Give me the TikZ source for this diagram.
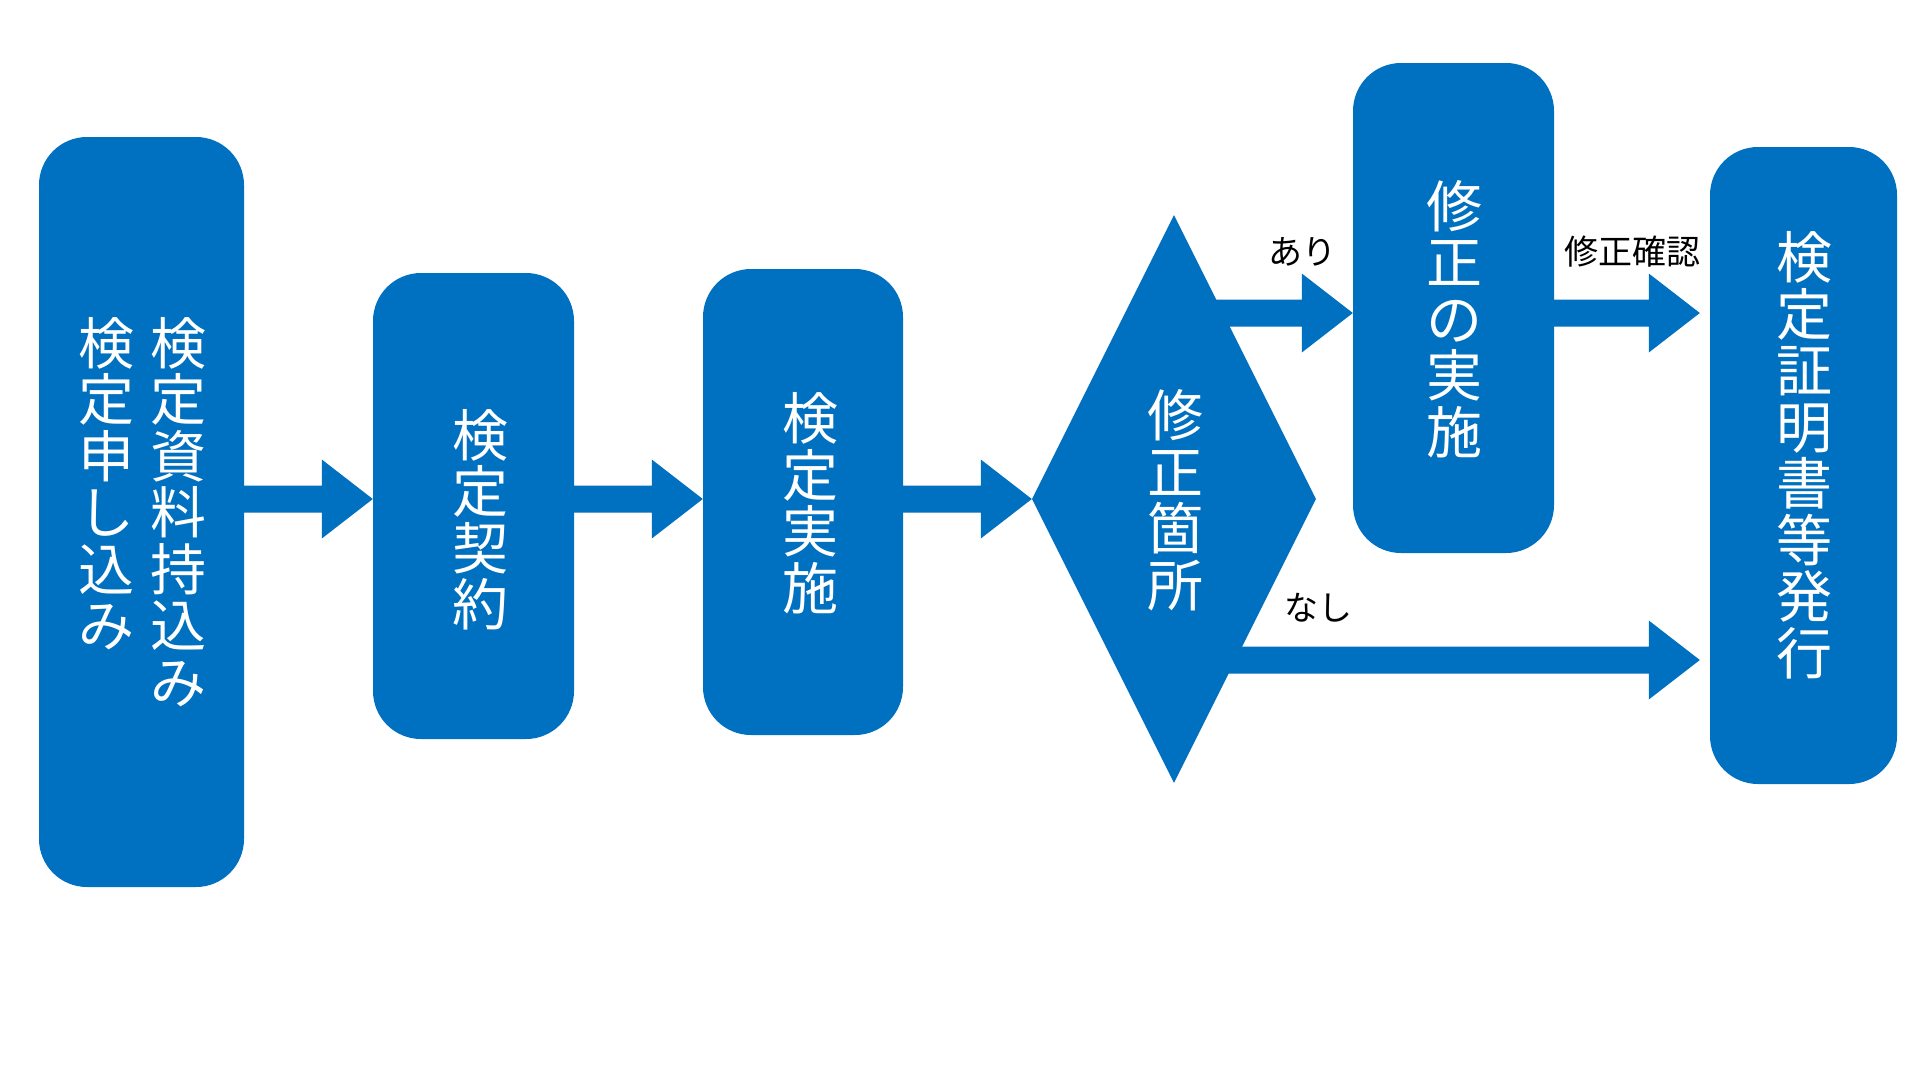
\documentclass[tikz,border=0pt]{standalone}
\usepackage{fontspec}
\setmainfont{Noto Sans CJK JP}
\usetikzlibrary{shapes.geometric,calc}
\definecolor{blu}{RGB}{0,112,192}
\tikzset{
 box/.style={rectangle, fill=blu, rounded corners=48pt, inner sep=0pt, draw=none},
 dec/.style={diamond, fill=blu, inner sep=0pt, draw=none},
 vt/.style={text=white, align=center, inner sep=0pt, font=\fontsize{56pt}{56.5pt}\selectfont},
 lbl/.style={text=black, inner sep=0pt, font=\fontsize{34pt}{40pt}\selectfont},
 afill/.style={fill=blu}
}
\newcommand\blkarrow[2]{\fill[afill] ($(#1)+(0,-13.5)$) -- ($(#2)+(-51,-13.5)$) -- ($(#2)+(-51,-39.5)$) -- (#2) -- ($(#2)+(-51,39.5)$) -- ($(#2)+(-51,13.5)$) -- ($(#1)+(0,13.5)$) -- cycle;}
\begin{document}
\begin{tikzpicture}[x=1pt,y=-1pt]
\fill[white] (0,0) rectangle (1920,1080);
\useasboundingbox (0,0) rectangle (1920,1080);
% boxes
\node[box, minimum width=205pt, minimum height=750pt] (b1) at (141.5,512) {};
\node[box, minimum width=201pt, minimum height=466pt] (b2) at (473.5,506) {};
\node[box, minimum width=200pt, minimum height=466pt] (b3) at (803,502) {};
\node[dec, minimum width=284pt, minimum height=568pt] (dia) at (1174,499) {};
\node[box, minimum width=201pt, minimum height=490pt] (b4) at (1453.5,308) {};
\node[box, minimum width=187pt, minimum height=637pt] (b5) at (1803.5,465.5) {};
% texts
\node[vt] (t1a) at (178,512) {検\\定\\資\\料\\持\\込\\み};
\node[vt] (t1b) at (106,483.75) {検\\定\\申\\し\\込\\み};
\node[vt] (t2) at (480,520) {検\\定\\契\\約};
\node[vt] (t3) at (810,503) {検\\定\\実\\施};
\node[vt] (td) at (1175,500) {修\\正\\箇\\所};
\node[vt] (t4) at (1454,319) {修\\正\\の\\実\\施};
\node[vt] (t5) at (1804,455.5) {検\\定\\証\\明\\書\\等\\発\\行};
% arrow end points
\coordinate (a1s) at ($(b1.east)+(0,-13)$);
\coordinate (a1e) at ($(b2.west)+(0,-7)$);
\coordinate (a2s) at ($(b2.east)+(0,-7)$);
\coordinate (a2e) at ($(b3.west)+(0,-3)$);
\coordinate (a3s) at ($(b3.east)+(0,-3)$);
\coordinate (a3e) at (dia.west);
\coordinate (as) at ($(dia.center)+(31,-186)$);
\coordinate (ae) at ($(b4.west)+(0,5)$);
\coordinate (cs) at ($(b4.east)+(0,5)$);
\coordinate (ce) at ($(b5.west)+(-10,-152.5)$);
\coordinate (ns) at ($(dia.center)+(50,161)$);
\coordinate (ne) at ($(b5.west)+(-10,194.5)$);
% arrows
\blkarrow{a1s}{a1e}
\blkarrow{a2s}{a2e}
\blkarrow{a3s}{a3e}
\blkarrow{as}{ae}
\blkarrow{cs}{ce}
\blkarrow{ns}{ne}
% labels
\node[lbl] (lari) at (1302,252) {あり};
\node[lbl] (lchk) at (1632,252) {修正確認};
\node[lbl] (lnasi) at (1318,608) {なし};
\end{tikzpicture}
\end{document}
